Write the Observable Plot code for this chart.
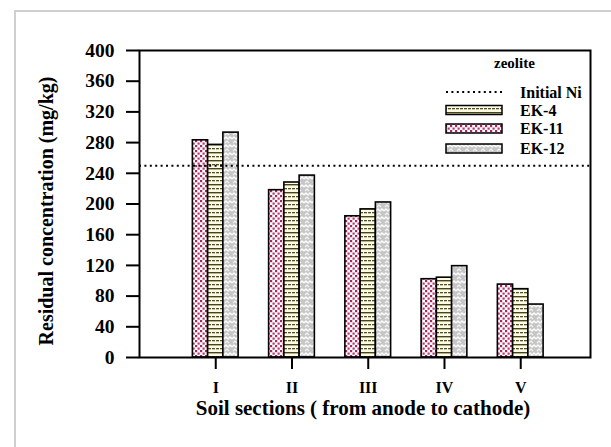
<!DOCTYPE html>
<html>
<head>
<meta charset="utf-8">
<script src="https://cdn.jsdelivr.net/npm/d3@7"></script>
<script src="https://cdn.jsdelivr.net/npm/@observablehq/plot@0.6"></script>
<style>
  body { margin: 0; background: #fff; }
  #wrap { position: relative; width: 611px; height: 447px; overflow: hidden; }
  #border { position: absolute; left: 14px; top: 10px; width: 800px; height: 800px;
            border-left: 2px solid #cfcfcf; border-top: 2px solid #cfcfcf; }
  #chart { position: absolute; left: 0; top: 0; }
  #chart svg { overflow: visible; }
</style>
</head>
<body>
<svg width="0" height="0" style="position:absolute">
  <defs>
    <!-- magenta dot fill -->
    <pattern id="pat-dots" width="5" height="5" patternUnits="userSpaceOnUse">
      <rect width="5" height="5" fill="#ffffff"/>
      <rect x="0" y="0" width="2.2" height="2.2" fill="#a8275f"/>
      <rect x="2.5" y="2.5" width="2.2" height="2.2" fill="#b23a70"/>
    </pattern>
    <!-- cream fill with alternating solid and dashed rules -->
    <pattern id="pat-lines" width="8" height="8" patternUnits="userSpaceOnUse">
      <rect width="8" height="8" fill="#fffbe4"/>
      <rect x="0" y="0" width="8" height="1.4" fill="#45451a"/>
      <rect x="0" y="4" width="3" height="1.3" fill="#52522a"/>
      <rect x="4" y="4" width="3" height="1.3" fill="#52522a"/>
    </pattern>
    <!-- grey fill with white chevrons -->
    <pattern id="pat-grey" width="8" height="8" patternUnits="userSpaceOnUse">
      <rect width="8" height="8" fill="#c6c6c6"/>
      <path d="M0,3 L2,1 L4,3 L6,1 L8,3" fill="none" stroke="#ffffff" stroke-width="1.4"/>
      <path d="M1,7 L3,5 L5,7" fill="none" stroke="#f4f4f4" stroke-width="1.2"/>
    </pattern>
  </defs>
</svg>
<div id="wrap">
  <div id="border"></div>
  <div id="chart"></div>
</div>
<script>
// Soil sections along the cell, anode to cathode
const sections = ["I", "II", "III", "IV", "V"];
const sectionPos = [1, 2, 3, 4, 5];

// Residual Ni (mg/kg) per run
const ek4  = [277, 228, 193, 104, 89];
const ek11 = [283, 218, 184, 102, 95];
const ek12 = [293, 237, 202, 119, 69];
const initialNi = 250;

const yTicks = [0, 40, 80, 120, 160, 200, 240, 280, 320, 360, 400];
const legendTitle = "zeolite";
const legendLabels = ["Initial Ni", "EK-4", "EK-11", "EK-12"];

// bar order within each group (left to right) and their fills
const barOrder = [
  {name: "EK-11", values: ek11, fill: "url(#pat-dots)"},
  {name: "EK-4",  values: ek4,  fill: "url(#pat-lines)"},
  {name: "EK-12", values: ek12, fill: "url(#pat-grey)"}
];
const fillOf = Object.fromEntries(barOrder.map(s => [s.name, s.fill]));

const barW = 0.2;
const font = "'Liberation Serif', 'Times New Roman', serif";

const barMarks = barOrder.map((s, j) => {
  const rows = sections.map((sec, i) => ({section: sec, pos: sectionPos[i], value: s.values[i]}));
  const off = (j - barOrder.length / 2) * barW;
  return Plot.rectY(rows, {
    x1: d => d.pos + off,
    x2: d => d.pos + off + barW,
    y: "value",
    fill: s.fill,
    stroke: "black",
    strokeWidth: 1.6
  });
});

const chart = Plot.plot({
  width: 611,
  height: 447,
  marginLeft: 139,
  marginRight: 21,
  marginTop: 50,
  marginBottom: 90,
  style: {fontFamily: font, fontWeight: "bold", background: "transparent", color: "black", overflow: "visible"},
  x: {type: "linear", domain: [0, 5.915]},
  y: {domain: [0, 400]},
  marks: [
    ...barMarks,
    Plot.ruleY([initialNi], {stroke: "black", strokeWidth: 2, strokeDasharray: "2 3.4"}),
    Plot.frame({stroke: "black", strokeWidth: 2}),
    Plot.axisY({ticks: yTicks, tickSize: 13, tickPadding: 12, fontSize: 19.5, strokeWidth: 2, label: null}),
    Plot.axisX({ticks: sectionPos, tickFormat: d => sections[d - 1], tickSize: 12, tickPadding: 12,
                fontSize: 16, strokeWidth: 2, label: null})
  ]
});
document.getElementById("chart").appendChild(chart);

const svg = d3.select(chart);

// axis titles
svg.append("text")
  .attr("transform", "translate(46,211) rotate(-90)")
  .attr("text-anchor", "middle")
  .attr("dominant-baseline", "central")
  .style("font", `bold 20px ${font}`)
  .text("Residual concentration (mg/kg)");

svg.append("text")
  .attr("x", 363).attr("y", 408)
  .attr("text-anchor", "middle")
  .attr("dominant-baseline", "central")
  .style("font", `bold 21px ${font}`)
  .text("Soil sections ( from anode to cathode)");

// legend
const lg = svg.append("g").attr("text-anchor", "start");
lg.append("text")
  .attr("x", 494).attr("y", 63)
  .attr("text-anchor", "start")
  .attr("dominant-baseline", "central")
  .style("font", `bold 15px ${font}`)
  .text(legendTitle);

const rowY = [92, 110, 128.5, 148.5];
legendLabels.forEach((label, i) => {
  const y = rowY[i];
  if (i === 0) {
    lg.append("line")
      .attr("x1", 446).attr("x2", 502).attr("y1", y).attr("y2", y)
      .attr("stroke", "black").attr("stroke-width", 2).attr("stroke-dasharray", "2 3.4");
  } else {
    lg.append("rect")
      .attr("x", 446).attr("y", y - 4.5).attr("width", 56).attr("height", 9)
      .attr("fill", fillOf[label]).attr("stroke", "black").attr("stroke-width", 1.5);
  }
  lg.append("text")
    .attr("x", 520).attr("y", y)
    .attr("text-anchor", "start")
    .attr("dominant-baseline", "central")
    .style("font", `bold 16px ${font}`)
    .text(label);
});
</script>
</body>
</html>
